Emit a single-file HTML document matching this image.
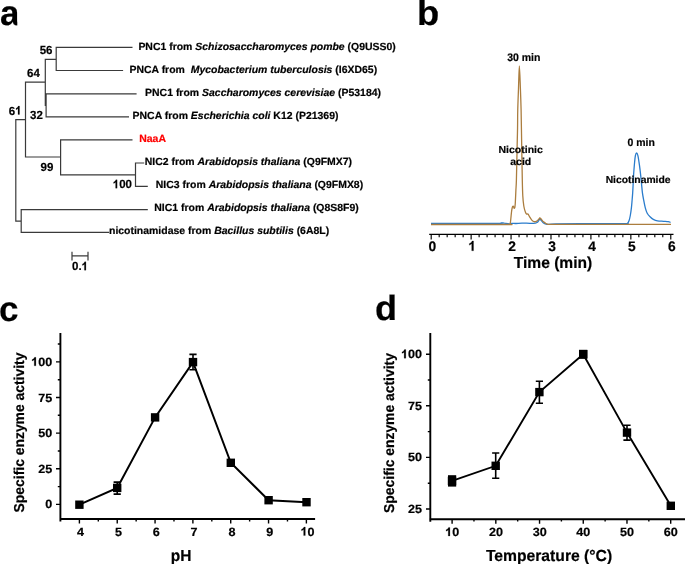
<!DOCTYPE html>
<html><head><meta charset="utf-8"><style>
html,body{margin:0;padding:0;background:#fff;width:685px;height:564px;overflow:hidden}
svg{display:block;will-change:transform}
text{font-family:"Liberation Sans", sans-serif;font-weight:bold;fill:#000;stroke:#000;stroke-width:0.2px;text-rendering:geometricPrecision}
</style></head><body>
<svg width="685" height="564" viewBox="0 0 685 564">
<path d="M56.2 47.4L56.2 70.5 M46.1 93.9L46.1 116.8 M45.3 59.4L45.3 105.3 M25.5 82.2L25.5 157.0 M60.6 139.9L60.6 174.8 M135.5 163.0L135.5 186.4 M15.8 119.7L15.8 221.1 M21.2 209.6L21.2 232.3 M56.2 47.4L131.9 47.4 M56.2 70.5L122.5 70.5 M46.1 93.9L136.0 93.9 M46.1 116.8L128.4 116.8 M45.3 59.4L56.2 59.4 M45.3 105.3L46.1 105.3 M25.5 82.2L45.3 82.2 M25.5 157.0L60.6 157.0 M60.6 139.9L131.9 139.9 M60.6 174.8L135.5 174.8 M135.5 163.0L143.6 163.0 M135.5 186.4L147.2 186.4 M15.8 119.7L25.5 119.7 M15.8 221.1L21.2 221.1 M21.2 209.6L147.2 209.6 M21.2 232.3L108.5 232.3 M72.0 255.9L88.0 255.9 M72.0 252.3L72.0 259.9 M88.0 252.3L88.0 259.9" stroke="#3a3a3a" stroke-width="1.2" fill="none" stroke-linecap="square"/>
<text transform="translate(138.40 49.60) scale(1.006 1)" font-size="10.4" style="fill:#000;stroke:#000">PNC1 from <tspan font-style="italic">Schizosaccharomyces pombe</tspan> (Q9USS0)</text>
<text transform="translate(129.50 72.70) scale(1.006 1)" font-size="10.4" style="fill:#000;stroke:#000">PNCA from&#160; <tspan font-style="italic">Mycobacterium tuberculosis</tspan> (I6XD65)</text>
<text transform="translate(145.10 95.90) scale(1.006 1)" font-size="10.4" style="fill:#000;stroke:#000">PNC1 from <tspan font-style="italic">Saccharomyces cerevisiae</tspan> (P53184)</text>
<text transform="translate(132.60 118.80) scale(1.006 1)" font-size="10.4" style="fill:#000;stroke:#000">PNCA from <tspan font-style="italic">Escherichia coli</tspan> K12 (P21369)</text>
<text transform="translate(139.20 141.70) scale(1.006 1)" font-size="10.4" style="fill:#ff0000;stroke:#ff0000">NaaA</text>
<text transform="translate(144.70 164.80) scale(1.006 1)" font-size="10.4" style="fill:#000;stroke:#000">NIC2 from <tspan font-style="italic">Arabidopsis thaliana</tspan> (Q9FMX7)</text>
<text transform="translate(155.80 188.40) scale(1.006 1)" font-size="10.4" style="fill:#000;stroke:#000">NIC3 from <tspan font-style="italic">Arabidopsis thaliana</tspan> (Q9FMX8)</text>
<text transform="translate(154.30 211.40) scale(1.006 1)" font-size="10.4" style="fill:#000;stroke:#000">NIC1 from <tspan font-style="italic">Arabidopsis thaliana</tspan> (Q8S8F9)</text>
<text transform="translate(109.00 234.40) scale(1.006 1)" font-size="10.4" style="fill:#000;stroke:#000">nicotinamidase from <tspan font-style="italic">Bacillus subtilis</tspan> (6A8L)</text>
<text transform="translate(39.70 53.50) scale(0.975 1)" font-size="11.8">56</text>
<text transform="translate(27.00 76.80) scale(0.975 1)" font-size="11.8">64</text>
<text transform="translate(8.80 114.50) scale(0.975 1)" font-size="11.8">6</text><path transform="translate(15.20 114.50) scale(0.005618 -0.005762)" d="M772 0H498V1033Q348 893 145 826V1075Q252 1110 377 1207Q502 1305 548 1466H772Z" stroke="#000" stroke-width="0.2" vector-effect="non-scaling-stroke"/>
<text transform="translate(30.00 118.90) scale(0.975 1)" font-size="11.8">32</text>
<text transform="translate(40.60 171.40) scale(0.975 1)" font-size="11.8">99</text>
<path transform="translate(112.80 188.20) scale(0.005618 -0.005762)" d="M772 0H498V1033Q348 893 145 826V1075Q252 1110 377 1207Q502 1305 548 1466H772Z" stroke="#000" stroke-width="0.2" vector-effect="non-scaling-stroke"/><text transform="translate(119.20 188.20) scale(0.975 1)" font-size="11.8">00</text>
<text transform="translate(72.00 270.20) scale(0.975 1)" font-size="11.8">0.</text><path transform="translate(81.60 270.20) scale(0.005618 -0.005762)" d="M772 0H498V1033Q348 893 145 826V1075Q252 1110 377 1207Q502 1305 548 1466H772Z" stroke="#000" stroke-width="0.2" vector-effect="non-scaling-stroke"/>
<clipPath id="ca"><rect x="0" y="0" width="17.3" height="40"/></clipPath>
<g clip-path="url(#ca)"><text transform="translate(0.00 25.20) scale(1.0 1)" font-size="35">a</text></g>
<text transform="translate(417.00 25.40) scale(1.03 1)" font-size="35.3">b</text>
<text transform="translate(-1.00 320.50) scale(1.0 1)" font-size="35">c</text>
<text transform="translate(375.10 320.00) scale(1.03 1)" font-size="35">d</text>
<path d="M429.2 234.3L673.5 234.3" stroke="#000" stroke-width="1.25" fill="none"/>
<path d="M431.20 234L431.20 239.6M439.19 234L439.19 237.2M447.17 234L447.17 237.2M455.16 234L455.16 237.2M463.14 234L463.14 237.2M471.13 234L471.13 239.6M479.12 234L479.12 237.2M487.10 234L487.10 237.2M495.09 234L495.09 237.2M503.07 234L503.07 237.2M511.06 234L511.06 239.6M519.05 234L519.05 237.2M527.03 234L527.03 237.2M535.02 234L535.02 237.2M543.00 234L543.00 237.2M550.99 234L550.99 239.6M558.98 234L558.98 237.2M566.96 234L566.96 237.2M574.95 234L574.95 237.2M582.93 234L582.93 237.2M590.92 234L590.92 239.6M598.91 234L598.91 237.2M606.89 234L606.89 237.2M614.88 234L614.88 237.2M622.86 234L622.86 237.2M630.85 234L630.85 239.6M638.84 234L638.84 237.2M646.82 234L646.82 237.2M654.81 234L654.81 237.2M662.79 234L662.79 237.2M670.78 234L670.78 239.6" stroke="#000" stroke-width="1.15" fill="none"/>
<text transform="translate(428.41 250.80) scale(1.0 1)" font-size="13.8">0</text>
<path transform="translate(468.34 250.80) scale(0.006738 -0.006738)" d="M772 0H498V1033Q348 893 145 826V1075Q252 1110 377 1207Q502 1305 548 1466H772Z" stroke="#000" stroke-width="0.2" vector-effect="non-scaling-stroke"/>
<text transform="translate(508.27 250.80) scale(1.0 1)" font-size="13.8">2</text>
<text transform="translate(548.20 250.80) scale(1.0 1)" font-size="13.8">3</text>
<text transform="translate(588.13 250.80) scale(1.0 1)" font-size="13.8">4</text>
<text transform="translate(628.06 250.80) scale(1.0 1)" font-size="13.8">5</text>
<text transform="translate(667.99 250.80) scale(1.0 1)" font-size="13.8">6</text>
<text transform="translate(553.00 268.40) scale(0.975 1)" font-size="16" text-anchor="middle">Time (min)</text>
<path d="M431,223.4C442.17,223.38 486.30,223.40 498,223.3C509.70,223.20 500.20,222.82 501.2,222.8C502.20,222.78 502.87,223.05 504,223.2C505.13,223.35 507.02,223.57 508,223.7C508.98,223.83 509.32,224.05 509.9,224.0C510.48,223.95 510.48,223.48 511.5,223.4C512.52,223.32 514.25,223.55 516,223.5C517.75,223.45 519.67,223.13 522,223.1C524.33,223.07 527.75,223.30 530,223.3C532.25,223.30 534.25,223.28 535.5,223.1C536.75,222.92 536.78,222.83 537.5,222.2C538.22,221.57 539.13,219.53 539.8,219.3C540.47,219.07 540.88,220.18 541.5,220.8C542.12,221.42 542.75,222.45 543.5,223C544.25,223.55 545.08,223.88 546,224.1C546.92,224.32 547.33,224.35 549,224.3C550.67,224.25 547.50,223.92 556,223.8C564.50,223.68 588.33,223.62 600,223.6C611.67,223.58 621.43,223.72 626,223.7C630.57,223.68 626.90,223.98 627.4,223.5C627.90,223.02 628.52,222.13 629,220.8C629.48,219.47 629.90,217.65 630.3,215.5C630.70,213.35 631.10,210.45 631.4,207.9C631.70,205.35 631.88,202.75 632.1,200.2C632.32,197.65 632.53,195.13 632.7,192.6C632.87,190.07 632.97,187.70 633.1,185C633.23,182.30 633.35,179.02 633.5,176.4C633.65,173.78 633.82,171.67 634,169.3C634.18,166.93 634.37,164.48 634.6,162.2C634.83,159.92 635.07,157.13 635.4,155.6C635.73,154.07 636.18,153.00 636.6,153.0C637.02,153.00 637.50,154.07 637.9,155.6C638.30,157.13 638.65,159.92 639,162.2C639.35,164.48 639.70,166.93 640,169.3C640.30,171.67 640.55,174.03 640.8,176.4C641.05,178.77 641.23,180.80 641.5,183.5C641.77,186.20 642.03,189.82 642.4,192.6C642.77,195.38 643.22,197.65 643.7,200.2C644.18,202.75 644.72,205.73 645.3,207.9C645.88,210.07 646.37,211.68 647.2,213.2C648.03,214.72 649.28,215.98 650.3,217C651.32,218.02 652.10,218.67 653.3,219.3C654.50,219.93 655.78,220.47 657.5,220.8C659.22,221.13 661.82,221.15 663.6,221.3C665.38,221.45 667.03,221.52 668.2,221.7C669.37,221.88 670.20,222.28 670.6,222.4" stroke="#2a7ccc" stroke-width="1.3" fill="none" stroke-linejoin="round"/>
<path d="M431,224.5C443.33,224.50 491.92,224.52 505,224.5C518.08,224.48 508.62,224.65 509.5,224.4C510.38,224.15 510.07,224.07 510.3,223C510.53,221.93 510.70,219.83 510.9,218C511.10,216.17 511.27,213.75 511.5,212C511.73,210.25 512.02,208.47 512.3,207.5C512.58,206.53 512.88,206.07 513.2,206.2C513.52,206.33 513.92,208.17 514.2,208.3C514.48,208.43 514.72,207.88 514.9,207C515.08,206.12 515.13,205.83 515.3,203C515.47,200.17 515.72,193.83 515.9,190C516.08,186.17 516.19,187.42 516.4,180C516.61,172.58 516.96,154.17 517.15,145.5C517.34,136.83 517.45,133.92 517.55,128C517.65,122.08 517.59,116.57 517.75,110C517.91,103.43 518.23,95.93 518.5,88.6C518.77,81.27 519.03,66.00 519.35,66C519.67,66.00 520.11,81.27 520.4,88.6C520.69,95.93 520.88,100.52 521.1,110C521.32,119.48 521.50,133.83 521.7,145.5C521.90,157.17 522.12,171.58 522.3,180C522.48,188.42 522.55,191.67 522.8,196C523.05,200.33 523.40,203.42 523.8,206C524.20,208.58 524.75,210.17 525.2,211.5C525.65,212.83 526.05,213.58 526.5,214C526.95,214.42 527.38,213.53 527.9,214C528.42,214.47 528.95,215.78 529.6,216.8C530.25,217.82 531.03,219.28 531.8,220.1C532.57,220.92 533.37,221.53 534.2,221.7C535.03,221.87 536.08,221.47 536.8,221.1C537.52,220.73 538.00,220.02 538.5,219.5C539.00,218.98 539.33,218.03 539.8,218C540.27,217.97 540.68,218.67 541.3,219.3C541.92,219.93 542.72,221.10 543.5,221.8C544.28,222.50 545.17,223.08 546,223.5C546.83,223.92 546.17,224.15 548.5,224.3C550.83,224.45 539.58,224.40 560,224.4C580.42,224.40 652.50,224.32 671,224.3" stroke="#ab7d3e" stroke-width="1.3" fill="none" stroke-linejoin="round"/>
<text transform="translate(523.80 61.00) scale(0.965 1)" font-size="10.9" text-anchor="middle">30 min</text>
<text transform="translate(520.70 152.70) scale(1.03 1)" font-size="10.2" text-anchor="middle">Nicotinic</text>
<text transform="translate(520.70 165.10) scale(1.03 1)" font-size="10.2" text-anchor="middle">acid</text>
<text transform="translate(641.10 146.10) scale(0.97 1)" font-size="10.8" text-anchor="middle">0 min</text>
<text transform="translate(638.10 183.20) scale(1.015 1)" font-size="10.2" text-anchor="middle">Nicotinamide</text>
<path d="M60.4 333L60.4 521.6M59.5 519L315.1 519" stroke="#000" stroke-width="1.9" fill="none"/>
<path d="M56 504.40L60.4 504.40M57.8 486.58L60.4 486.58M56 468.77L60.4 468.77M57.8 450.95L60.4 450.95M56 433.13L60.4 433.13M57.8 415.32L60.4 415.32M56 397.50L60.4 397.50M57.8 379.69L60.4 379.69M56 361.87L60.4 361.87M57.8 344.05L60.4 344.05M79.40 519L79.40 523.5M98.31 519L98.31 521.4M117.23 519L117.23 523.5M136.15 519L136.15 521.4M155.06 519L155.06 523.5M173.97 519L173.97 521.4M192.89 519L192.89 523.5M211.81 519L211.81 521.4M230.72 519L230.72 523.5M249.63 519L249.63 521.4M268.55 519L268.55 523.5M287.47 519L287.47 521.4M306.38 519L306.38 523.5" stroke="#000" stroke-width="1.4" fill="none"/>
<text transform="translate(45.19 508.40) scale(1.05 1)" font-size="12">0</text>
<text transform="translate(38.19 472.77) scale(1.05 1)" font-size="12">25</text>
<text transform="translate(38.19 437.13) scale(1.05 1)" font-size="12">50</text>
<text transform="translate(38.19 401.50) scale(1.05 1)" font-size="12">75</text>
<path transform="translate(31.18 365.87) scale(0.006152 -0.005859)" d="M772 0H498V1033Q348 893 145 826V1075Q252 1110 377 1207Q502 1305 548 1466H772Z" stroke="#000" stroke-width="0.2" vector-effect="non-scaling-stroke"/><text transform="translate(38.19 365.87) scale(1.05 1)" font-size="12">00</text>
<text transform="translate(77.10 535.60) scale(1.05 1)" font-size="12">4</text>
<text transform="translate(114.93 535.60) scale(1.05 1)" font-size="12">5</text>
<text transform="translate(152.76 535.60) scale(1.05 1)" font-size="12">6</text>
<text transform="translate(190.59 535.60) scale(1.05 1)" font-size="12">7</text>
<text transform="translate(228.42 535.60) scale(1.05 1)" font-size="12">8</text>
<text transform="translate(266.25 535.60) scale(1.05 1)" font-size="12">9</text>
<path transform="translate(300.57 535.60) scale(0.006152 -0.005859)" d="M772 0H498V1033Q348 893 145 826V1075Q252 1110 377 1207Q502 1305 548 1466H772Z" stroke="#000" stroke-width="0.2" vector-effect="non-scaling-stroke"/><text transform="translate(307.58 535.60) scale(1.05 1)" font-size="12">0</text>
<text transform="translate(181.00 560.70) scale(0.97 1)" font-size="16" text-anchor="middle">pH</text>
<text transform="translate(24.10 432.50) rotate(-90) scale(1 1.03)" font-size="13.9" text-anchor="middle">Specific enzyme activity</text>
<polyline points="79.4,504.7 117.2,487.9 155.1,417.4 193,362.1 230.8,462.8 268.6,500.2 306.5,502.2" stroke="#000" stroke-width="2.0" fill="none"/>
<path d="M117.2 482.1L117.2 494.1M113.60000000000001 482.1L120.8 482.1M113.60000000000001 494.1L120.8 494.1M193 354.4L193 369.8M189.4 354.4L196.6 354.4M189.4 369.8L196.6 369.8" stroke="#000" stroke-width="1.6" fill="none"/>
<rect x="75.20" y="500.50" width="8.4" height="8.4" fill="#000"/>
<rect x="113.00" y="483.70" width="8.4" height="8.4" fill="#000"/>
<rect x="150.90" y="413.20" width="8.4" height="8.4" fill="#000"/>
<rect x="188.80" y="357.90" width="8.4" height="8.4" fill="#000"/>
<rect x="226.60" y="458.60" width="8.4" height="8.4" fill="#000"/>
<rect x="264.40" y="496.00" width="8.4" height="8.4" fill="#000"/>
<rect x="302.30" y="498.00" width="8.4" height="8.4" fill="#000"/>
<path d="M430.3 333.1L430.3 521.8M429.3 519.2L685 519.2" stroke="#000" stroke-width="1.9" fill="none"/>
<path d="M426 509.00L430.3 509.00M427.8 483.20L430.3 483.20M426 457.40L430.3 457.40M427.8 431.60L430.3 431.60M426 405.80L430.3 405.80M427.8 380.00L430.3 380.00M426 354.20L430.3 354.20M452.10 519.2L452.10 523.7M473.96 519.2L473.96 521.6M495.82 519.2L495.82 523.7M517.68 519.2L517.68 521.6M539.54 519.2L539.54 523.7M561.40 519.2L561.40 521.6M583.26 519.2L583.26 523.7M605.12 519.2L605.12 521.6M626.98 519.2L626.98 523.7M648.84 519.2L648.84 521.6M670.70 519.2L670.70 523.7" stroke="#000" stroke-width="1.4" fill="none"/>
<text transform="translate(408.09 513.00) scale(1.05 1)" font-size="12">25</text>
<text transform="translate(408.09 461.40) scale(1.05 1)" font-size="12">50</text>
<text transform="translate(408.09 409.80) scale(1.05 1)" font-size="12">75</text>
<path transform="translate(401.08 358.20) scale(0.006152 -0.005859)" d="M772 0H498V1033Q348 893 145 826V1075Q252 1110 377 1207Q502 1305 548 1466H772Z" stroke="#000" stroke-width="0.2" vector-effect="non-scaling-stroke"/><text transform="translate(408.09 358.20) scale(1.05 1)" font-size="12">00</text>
<path transform="translate(445.19 536.00) scale(0.006152 -0.005859)" d="M772 0H498V1033Q348 893 145 826V1075Q252 1110 377 1207Q502 1305 548 1466H772Z" stroke="#000" stroke-width="0.2" vector-effect="non-scaling-stroke"/><text transform="translate(452.20 536.00) scale(1.05 1)" font-size="12">0</text>
<text transform="translate(488.91 536.00) scale(1.05 1)" font-size="12">20</text>
<text transform="translate(532.63 536.00) scale(1.05 1)" font-size="12">30</text>
<text transform="translate(576.35 536.00) scale(1.05 1)" font-size="12">40</text>
<text transform="translate(620.07 536.00) scale(1.05 1)" font-size="12">50</text>
<text transform="translate(663.79 536.00) scale(1.05 1)" font-size="12">60</text>
<text transform="translate(549.00 560.80) scale(0.98 1)" font-size="16" text-anchor="middle">Temperature (°C)</text>
<text transform="translate(393.80 433.00) rotate(-90) scale(1 1.03)" font-size="13.9" text-anchor="middle">Specific enzyme activity</text>
<polyline points="452,480.9 495.7,465.8 539.4,392.1 583.2,354.2 627,432.6 670.8,505.8" stroke="#000" stroke-width="1.9" fill="none"/>
<path d="M495.7 453L495.7 478.3M492.09999999999997 453L499.3 453M492.09999999999997 478.3L499.3 478.3M539.4 381.2L539.4 403.3M535.8 381.2L543.0 381.2M535.8 403.3L543.0 403.3M627 425.2L627 440.1M623.4 425.2L630.6 425.2M623.4 440.1L630.6 440.1" stroke="#000" stroke-width="1.6" fill="none"/>
<rect x="447.80" y="476.70" width="8.4" height="8.4" fill="#000"/>
<rect x="491.50" y="461.60" width="8.4" height="8.4" fill="#000"/>
<rect x="535.20" y="387.90" width="8.4" height="8.4" fill="#000"/>
<rect x="579.00" y="350.00" width="8.4" height="8.4" fill="#000"/>
<rect x="622.80" y="428.40" width="8.4" height="8.4" fill="#000"/>
<rect x="666.60" y="501.60" width="8.4" height="8.4" fill="#000"/>
<rect x="448.0" y="475.2" width="8.2" height="11.4" fill="#000"/>
<rect x="579.0" y="349.8" width="8.3" height="9.0" fill="#000"/>
</svg>
</body></html>
